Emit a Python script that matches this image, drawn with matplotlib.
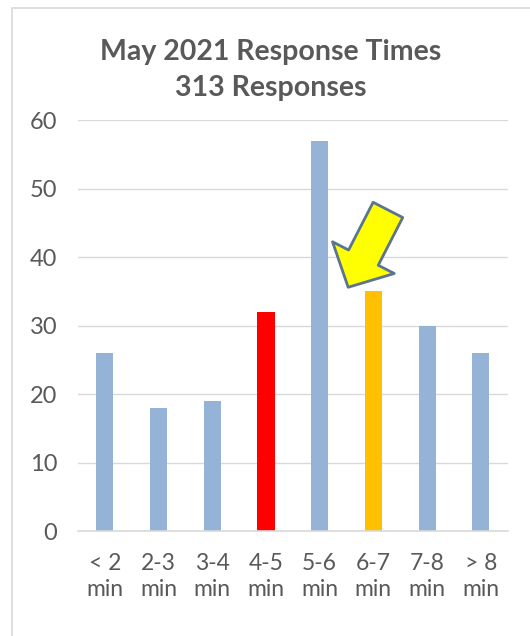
import matplotlib.pyplot as plt
from matplotlib.patches import Rectangle

categories = ['< 2\nmin', '2-3\nmin', '3-4\nmin', '4-5\nmin', '5-6\nmin', '6-7\nmin', '7-8\nmin', '> 8\nmin']
counts = [26, 18, 19, 32, 57, 35, 30, 26]
colors = ['#95B3D7', '#95B3D7', '#95B3D7', '#FF0000', '#95B3D7', '#FFC000', '#95B3D7', '#95B3D7']
yticks = [0, 10, 20, 30, 40, 50, 60]

plt.rcParams['font.family'] = ['Lato', 'DejaVu Sans']
grey = '#595959'

fig = plt.figure(figsize=(5.3, 6.36), dpi=100)
ax = fig.add_axes([0.147, 0.165, 0.811, 0.646])

# chart frame
fig.patches.append(Rectangle((12 / 530, -0.1), 1.2, 1 - 8 / 636 + 0.1, transform=fig.transFigure,
                             fill=False, ec='#D9D9D9', lw=1.2))

x = list(range(len(categories)))
ax.bar(x, counts, width=0.32, color=colors, zorder=2)

ax.set_xlim(-0.5, len(categories) - 0.5)
ax.set_ylim(0, 60)
ax.yaxis.grid(True, color='#D9D9D9', lw=1)
ax.set_axisbelow(True)
for s in ['top', 'right', 'left']:
    ax.spines[s].set_visible(False)
ax.spines['bottom'].set_color('#D9D9D9')
ax.spines['bottom'].set_linewidth(1.2)
ax.tick_params(length=0, colors=grey)
ax.tick_params(axis='y', pad=15)
ax.tick_params(axis='x', pad=16)
ax.set_yticks(yticks)
ax.set_yticklabels([str(t) for t in yticks], fontsize=17, color=grey)
ax.set_xticks(x)
ax.set_xticklabels(categories, fontsize=16.5, color=grey, linespacing=1.28)

fig.text(271 / 530, 1 - 70 / 636, 'May 2021 Response Times\n313 Responses', fontsize=20.5,
         fontweight='bold', color=grey, ha='center', va='center', linespacing=1.45)

# arrow pointing at the 5-6 bar
ax.annotate('', xy=(4.53, 35.6), xytext=(5.27, 46.9),
            arrowprops=dict(arrowstyle='simple,head_length=2.4,head_width=5,tail_width=2.4',
                            mutation_scale=10, fc='#FFFF00', ec='#5B7590', lw=2,
                            shrinkA=0, shrinkB=0), zorder=3)

fig.savefig('out.png', dpi=100)
